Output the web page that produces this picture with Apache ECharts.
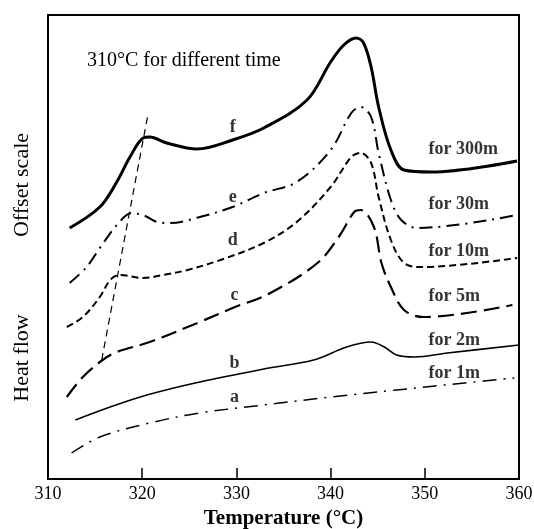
<!DOCTYPE html>
<html><head><meta charset="utf-8">
<script src="https://cdn.jsdelivr.net/npm/echarts@6/dist/echarts.min.js"></script>
<style>html,body{margin:0;padding:0;background:#fff}#c{width:534px;height:529px}</style>
</head><body><div id="c"></div>
<script>
// Temperature (°C) ticks
const xTicks = [310, 320, 330, 340, 350, 360];
// Curve f: 300 min
const fT = [312.3, 315.5, 317.3, 318.7, 320.1, 320.8, 322.6, 325.8, 329.6, 332.9, 337.5, 340.0, 341.4, 342.7, 343.5, 344.3, 345.1, 346.4, 347.8, 350.7, 359.8];
const fY = [251, 272, 297, 322, 341, 342, 336, 330, 339, 351, 379, 417, 434, 441, 436, 412, 372, 329, 309, 307, 318];
// Curve e: 30 min
const eT = [312.3, 314.1, 315.5, 317.4, 318.9, 320.3, 321.6, 323.0, 326.1, 329.6, 332.9, 336.4, 340.0, 342.2, 343.2, 344.3, 345.1, 346.4, 347.5, 349.2, 359.8];
const eY = [196, 212, 231, 255, 266, 263, 257, 256, 262, 272, 286, 297, 329, 366, 372, 362, 326, 279, 259, 251, 264];
// Curve d: 10 min
const dT = [312.0, 313.7, 315.5, 316.6, 317.6, 320.1, 322.2, 324.8, 328.3, 332.9, 336.4, 340.0, 342.2, 343.2, 344.3, 345.1, 346.4, 347.8, 349.6, 359.8];
const dY = [152, 162, 182, 199, 204, 201, 204, 209, 219, 236, 257, 292, 322, 326, 316, 282, 239, 216, 212, 221];
// Curve c: 5 min
const cT = [312.0, 313.7, 315.8, 317.3, 320.8, 326.1, 329.6, 333.6, 338.6, 341.0, 342.5, 343.2, 344.6, 345.4, 346.4, 347.8, 349.9, 359.3];
const cY = [82, 102, 119, 127, 137, 157, 171, 186, 216, 244, 267, 269, 252, 216, 192, 169, 162, 174];
// Curve b: 2 min
const bT = [312.9, 316.6, 320.5, 326.1, 332.9, 338.2, 341.7, 344.3, 345.7, 347.0, 348.9, 352.4, 360.0];
const bY = [59, 72, 84, 97, 110, 119, 132, 137, 132, 124, 122, 126, 134];
// Curve a: 1 min
const aT = [312.5, 315.5, 320.8, 326.1, 332.9, 340.0, 347.0, 354.2, 359.5];
const aY = [26, 42, 56, 66, 74, 82, 89, 96, 101];
// Dashed guide line through low-temperature peaks
const guideT = [315.7, 320.6];
const guideY = [119, 364];
// Curve letters and their anchor points
const letterText = ['f', 'e', 'd', 'c', 'b', 'a'];
const letterT = [329.6, 329.6, 329.6, 329.8, 329.8, 329.8];
const letterY = [352, 282, 239, 184, 116, 82];
// Time labels (left-aligned anchors)
const timeText = ['for 300m', 'for 30m', 'for 10m', 'for 5m', 'for 2m', 'for 1m'];
const timeT = [350.4, 350.4, 350.4, 350.4, 350.4, 350.4];
const timeY = [330, 275, 228, 183, 139, 106];

const zip = (t, y) => t.map((v, i) => [v, y[i]]);
const FONT = 'Liberation Serif';

const chart = echarts.init(document.getElementById('c'), null, {renderer: 'canvas'});
function curve(name, t, y, width, type) {
  return {name, type: 'line', data: zip(t, y), smooth: 0.35, symbol: 'none',
    lineStyle: {color: '#000', width, type}, z: 3};
}
chart.setOption({
  animation: false,
  backgroundColor: '#fff',
  grid: {left: 48, right: 15, top: 15, bottom: 50, show: true, borderColor: '#000', borderWidth: 2,
    containLabel: false, outerBoundsMode: 'none'},
  xAxis: {type: 'value', min: 310, max: 360, interval: 10,
    name: 'Temperature (°C)', nameLocation: 'middle', nameGap: 27,
    nameTextStyle: {fontFamily: FONT, fontSize: 21, fontWeight: 'bold', color: '#000'},
    axisLine: {lineStyle: {color: '#000', width: 2}},
    axisTick: {inside: true, length: 11, lineStyle: {color: '#000', width: 1.5}},
    axisLabel: {fontFamily: FONT, fontSize: 18, color: '#000', margin: 6},
    splitLine: {show: false}},
  yAxis: {type: 'value', min: 0, max: 464,
    axisLine: {show: true, lineStyle: {color: '#000', width: 2}},
    axisTick: {show: false}, axisLabel: {show: false}, splitLine: {show: false}},
  graphic: [
    {type: 'text', left: 87, top: 51, style: {text: '310°C for different time', font: '20px "Liberation Serif"', fill: '#000'}},
    {type: 'text', x: 22, y: 185, rotation: Math.PI / 2, style: {text: 'Offset scale', font: '22px "Liberation Serif"', fill: '#000', align: 'center', verticalAlign: 'middle'}},
    {type: 'text', x: 22, y: 358, rotation: Math.PI / 2, style: {text: 'Heat flow', font: '22px "Liberation Serif"', fill: '#000', align: 'center', verticalAlign: 'middle'}}
  ],
  series: [
    curve('f', fT, fY, 3, 'solid'),
    curve('e', eT, eY, 2, [13, 6, 2, 6]),
    curve('d', dT, dY, 2, [7, 4]),
    curve('c', cT, cY, 2.2, [16, 7]),
    curve('b', bT, bY, 1.6, 'solid'),
    curve('a', aT, aY, 1.5, [14, 7, 2, 7]),
    {name: 'guide', type: 'line', data: zip(guideT, guideY), symbol: 'none',
      lineStyle: {color: '#000', width: 1.2, type: [7, 5]}},
    {name: 'letters', type: 'scatter', symbolSize: 0, data: zip(letterT, letterY).map((p, i) => ({value: p, label: {formatter: letterText[i]}})),
      label: {show: true, position: 'inside', fontFamily: FONT, fontSize: 18, fontWeight: 'bold', color: '#000'}},
    {name: 'times', type: 'scatter', symbolSize: 0, data: zip(timeT, timeY).map((p, i) => ({value: p, label: {formatter: timeText[i]}})),
      label: {show: true, position: 'right', distance: 0, fontFamily: FONT, fontSize: 18, fontWeight: 'bold', color: '#000'}}
  ]
});
</script></body></html>
